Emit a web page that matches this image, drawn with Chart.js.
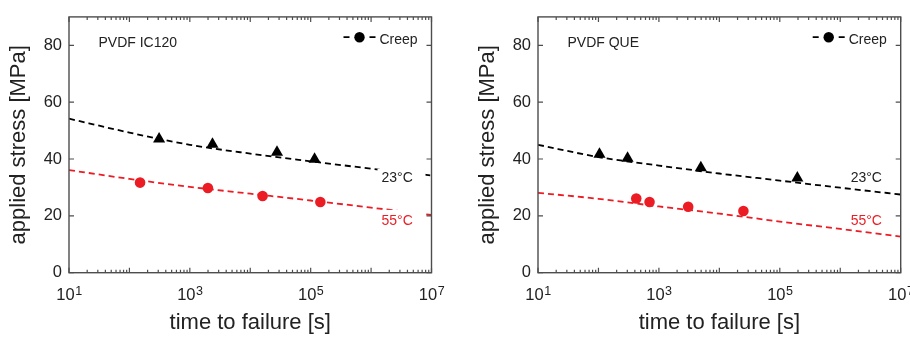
<!DOCTYPE html>
<html><head><meta charset="utf-8">
<script src="https://cdn.jsdelivr.net/npm/chart.js@4/dist/chart.umd.min.js"></script>
<style>
html,body{margin:0;padding:0;background:#fff;overflow:hidden;width:910px;height:337px}
.c{position:absolute;top:0;height:337px}
#wa{left:0;width:460px}
#wb{left:469px;width:441px}
canvas{display:block}
</style></head><body>
<div id="wa" class="c"><canvas id="ca" width="460" height="337"></canvas></div>
<div id="wb" class="c"><canvas id="cb" width="441" height="337"></canvas></div>
<script>
// ---------- data ----------
const xTickExponents = [1, 3, 5, 7];
const yTickValues = [0, 20, 40, 60, 80];
const fitTimes = [1e1, 1e2, 1e3, 1e4, 1e5, 1e6, 1e7];

const ic120Creep23Time   = [310, 2370, 27700, 116000];
const ic120Creep23Stress = [47.0, 45.2, 42.4, 39.9];
const ic120Creep55Time   = [150, 1990, 16000, 144600];
const ic120Creep55Stress = [31.7, 29.8, 27.0, 24.9];
const ic120Fit23 = [54.2, 49.3, 45.0, 41.9, 39.2, 36.6, 34.2];
const ic120Fit55 = [36.1, 33.0, 30.2, 27.8, 25.4, 22.9, 20.3];

const queCreep23Time   = [104, 303, 4940, 195000];
const queCreep23Stress = [41.7, 40.3, 36.9, 33.3];
const queCreep55Time   = [422, 700, 3050, 25000];
const queCreep55Stress = [26.1, 24.9, 23.2, 21.7];
const queFit23 = [45.0, 40.7, 37.7, 34.9, 32.4, 29.9, 27.5];
const queFit55 = [28.1, 26.0, 23.3, 20.8, 18.0, 15.4, 12.7];

const panelTitles = ['PVDF IC120', 'PVDF QUE'];
const tempLabels = ['23°C', '55°C'];
const legendLabel = 'Creep';
const xTitle = 'time to failure [s]';
const yTitle = 'applied stress [MPa]';

// ---------- styles ----------
const FONT = '"Liberation Sans", Arial, Helvetica, sans-serif';
const RED = '#ec1c24';
const BLACK = '#000000';
const TEXT = '#222222';
const FRAME = '#4d4d4d';

function pairs(xs, ys) { return xs.map((x, i) => ({x: x, y: ys[i]})); }

function decorPlugin(title) {
  return {
    id: 'decor',
    afterDatasetsDraw(chart) {
      const {ctx, chartArea: a, scales: {x, y}} = chart;
      ctx.save();
      // label backgrounds + temperature labels
      ctx.fillStyle = '#fff';
      ctx.fillRect(a.right - 54, a.top + 152, 48, 18);
      ctx.fillRect(a.right - 54, a.top + 193, 48, 19);
      ctx.font = '14px ' + FONT;
      ctx.textAlign = 'left';
      ctx.textBaseline = 'alphabetic';
      ctx.fillStyle = TEXT;
      ctx.fillText(tempLabels[0], a.right - 50, a.top + 165.3);
      ctx.fillStyle = RED;
      ctx.fillText(tempLabels[1], a.right - 50, a.top + 207.7);
      // panel title
      ctx.fillStyle = TEXT;
      ctx.fillText(title, a.left + 29.5, a.top + 30.3);
      // legend
      const ly = a.top + 20.3;
      ctx.strokeStyle = BLACK;
      ctx.lineWidth = 1.8;
      ctx.beginPath();
      ctx.moveTo(a.right - 88, ly); ctx.lineTo(a.right - 82, ly);
      ctx.moveTo(a.right - 62, ly); ctx.lineTo(a.right - 56, ly);
      ctx.stroke();
      ctx.fillStyle = BLACK;
      ctx.beginPath(); ctx.arc(a.right - 72, ly, 5.2, 0, Math.PI * 2); ctx.fill();
      ctx.fillStyle = TEXT;
      ctx.fillText(legendLabel, a.right - 52, a.top + 27);
      // frame
      ctx.strokeStyle = FRAME;
      ctx.lineWidth = 1.4;
      ctx.strokeRect(a.left, a.top, a.right - a.left, a.bottom - a.top);
      // y ticks (inward, both sides)
      ctx.lineWidth = 1.2;
      ctx.beginPath();
      yTickValues.forEach(v => {
        const py = y.getPixelForValue(v);
        ctx.moveTo(a.left, py); ctx.lineTo(a.left + 5, py);
        ctx.moveTo(a.right, py); ctx.lineTo(a.right - 5, py);
      });
      // x ticks (log, major + minor, inward, top and bottom)
      for (let e = 1; e <= 7; e++) {
        for (let m = 1; m <= 9; m++) {
          const v = m * Math.pow(10, e);
          if (v > 1e7) break;
          const px = x.getPixelForValue(v);
          const len = m === 1 ? 5 : 3;
          ctx.moveTo(px, a.bottom); ctx.lineTo(px, a.bottom - len);
          ctx.moveTo(px, a.top); ctx.lineTo(px, a.top + len);
        }
      }
      ctx.stroke();
      // x tick labels 10^n
      ctx.fillStyle = TEXT;
      xTickExponents.forEach(e => {
        const px = x.getPixelForValue(Math.pow(10, e));
        ctx.font = '16.5px ' + FONT;
        const wb = ctx.measureText('10').width;
        ctx.font = '12.5px ' + FONT;
        const we = ctx.measureText(String(e)).width;
        const x0 = px - (wb + we) / 2;
        ctx.font = '16.5px ' + FONT;
        ctx.fillText('10', x0, a.bottom + 27.6);
        ctx.font = '12.5px ' + FONT;
        ctx.fillText(String(e), x0 + wb + 0.5, a.bottom + 21.8);
      });
      ctx.restore();
    }
  };
}

function makeChart(id, title, t23, s23, t55, s55, fit23, fit55, padRight, yWidth) {
  return new Chart(document.getElementById(id), {
    type: 'scatter',
    data: {
      datasets: [
        {data: pairs(t23, s23), pointStyle: 'triangle', pointRadius: 7, pointBackgroundColor: BLACK, pointBorderColor: BLACK, pointBorderWidth: 0},
        {data: pairs(t55, s55), pointStyle: 'circle', pointRadius: 5.3, pointBackgroundColor: RED, pointBorderColor: RED, pointBorderWidth: 0},
        {data: pairs(fitTimes, fit23), showLine: true, pointRadius: 0, borderColor: BLACK, borderWidth: 1.8, borderDash: [6, 4], cubicInterpolationMode: 'monotone'},
        {data: pairs(fitTimes, fit55), showLine: true, pointRadius: 0, borderColor: RED, borderWidth: 1.8, borderDash: [6, 4], cubicInterpolationMode: 'monotone'}
      ]
    },
    options: {
      responsive: false,
      animation: false,
      events: [],
      layout: {padding: {left: 6.2, top: 13, right: padRight, bottom: 0}},
      plugins: {legend: {display: false}, tooltip: {enabled: false}},
      scales: {
        x: {
          type: 'logarithmic', min: 10, max: 1e7,
          ticks: {display: false},
          grid: {display: false, drawTicks: false, tickLength: 0},
          border: {display: false},
          title: {display: true, text: xTitle, color: TEXT, font: {family: FONT, size: 22}, padding: {top: 0, bottom: 1.2}},
          afterFit(s) { s.height = 337 - 272.7; s.paddingLeft = 0; s.paddingRight = 0; }
        },
        y: {
          type: 'linear', min: 0, max: 90,
          ticks: {stepSize: 20, includeBounds: false, padding: 7, color: TEXT, font: {family: FONT, size: 16.5}},
          grid: {display: false, drawTicks: false, tickLength: 0},
          border: {display: false},
          title: {display: true, text: yTitle, color: TEXT, font: {family: FONT, size: 22}, padding: {top: 0, bottom: 0}},
          afterFit(s) { s.width = yWidth; }
        }
      }
    },
    plugins: [decorPlugin(title)]
  });
}

makeChart('ca', panelTitles[0], ic120Creep23Time, ic120Creep23Stress, ic120Creep55Time, ic120Creep55Stress, ic120Fit23, ic120Fit55, 460 - 431.5, 69 - 6.2);
makeChart('cb', panelTitles[1], queCreep23Time, queCreep23Stress, queCreep55Time, queCreep55Stress, queFit23, queFit55, 441 - 431.7, 69 - 6.2);
</script>
</body></html>
